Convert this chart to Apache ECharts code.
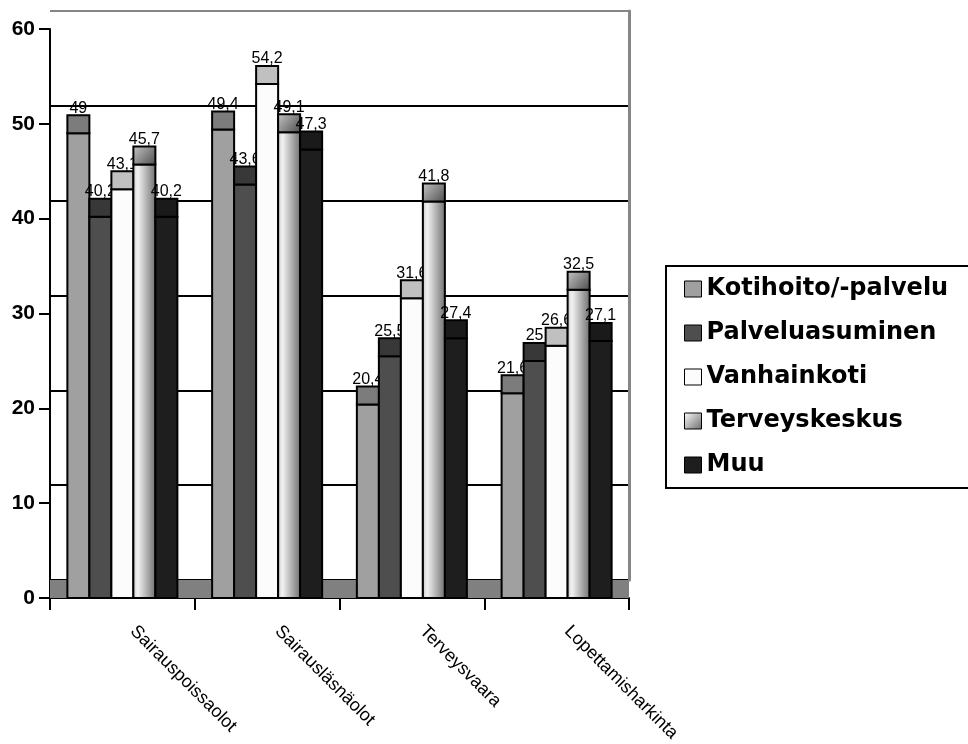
<!DOCTYPE html>
<html>
<head>
<meta charset="utf-8">
<script src="https://cdn.jsdelivr.net/npm/echarts@6/dist/echarts.min.js"></script>
<style>
  html, body { margin: 0; padding: 0; background: #ffffff; }
  #chart { width: 968px; height: 744px; }
</style>
</head>
<body>
<div id="chart"></div>
<script>
// Categories and series values (percent)
const categories = ['Sairauspoissaolot', 'Sairausläsnäolot', 'Terveysvaara', 'Lopettamisharkinta'];
const kotihoito = [49, 49.4, 20.4, 21.6];
const palveluasuminen = [40.2, 43.6, 25.5, 25];
const vanhainkoti = [43.1, 54.2, 31.6, 26.6];
const terveyskeskus = [45.7, 49.1, 41.8, 32.5];
const muu = [40.2, 47.3, 27.4, 27.1];
const seriesNames = ['Kotihoito/-palvelu', 'Palveluasuminen', 'Vanhainkoti', 'Terveyskeskus', 'Muu'];
const yTicks = { min: 0, max: 60, interval: 10 };

const seriesValues = [kotihoito, palveluasuminen, vanhainkoti, terveyskeskus, muu];

// Pseudo-3D look: every bar gets a top face of fixed pixel depth
const DEPTH = 18;
const CATEGORY_GAP = 0.24;

const LG = echarts.graphic.LinearGradient;
const faces = [
  { front: '#a0a0a0', top: '#7c7c7c' },
  { front: '#4e4e4e', top: '#383838' },
  { front: '#fcfcfc', top: '#c0c0c0' },
  {
    front: new LG(0, 0, 1, 0, [
      { offset: 0, color: '#c4c4c4' },
      { offset: 0.22, color: '#f2f2f2' },
      { offset: 1, color: '#6c6c6c' }
    ]),
    top: new LG(0, 0, 1, 1, [
      { offset: 0, color: '#c8c8c8' },
      { offset: 1, color: '#4a4a4a' }
    ])
  },
  { front: '#1e1e1e', top: '#1a1a1a' }
];
const legendFill = [
  '#a0a0a0', '#4e4e4e', '#fcfcfc',
  new LG(0, 0, 1, 1, [{ offset: 0, color: '#ffffff' }, { offset: 1, color: '#6a6a6a' }]),
  '#1e1e1e'
];

function fmt(v) {
  return String(v).replace('.', ',');
}

function barRenderer(si) {
  return function (params, api) {
    const cat = api.value(0);
    const val = api.value(1);
    const base = api.coord([cat, 0]);
    const top = api.coord([cat, val]);
    const band = api.size([1, 0])[0];
    const n = seriesNames.length;
    const bw = band * (1 - CATEGORY_GAP) / n;
    const x0 = base[0] - bw * n / 2 + si * bw;
    const f = faces[si];
    return {
      type: 'group',
      children: [
        {
          type: 'rect',
          shape: { x: x0, y: top[1], width: bw, height: base[1] - top[1] },
          style: { fill: f.front, stroke: '#000', lineWidth: 2 }
        },
        {
          type: 'rect',
          shape: { x: x0, y: top[1] - DEPTH, width: bw, height: DEPTH },
          style: { fill: f.top, stroke: '#000', lineWidth: 2 }
        },
        {
          type: 'text',
          style: {
            text: fmt(val),
            x: x0 + bw / 2,
            y: top[1] - DEPTH + 1,
            align: 'center',
            verticalAlign: 'bottom',
            fontFamily: 'Liberation Sans, Arial, sans-serif',
            fontSize: 16,
            fill: '#000'
          }
        }
      ]
    };
  };
}

const chart = echarts.init(document.getElementById('chart'), null, { renderer: 'canvas' });

const series = seriesNames.map((name, si) => ({
  name: name,
  type: 'custom',
  xAxisIndex: 0,
  yAxisIndex: 0,
  z: 3,
  renderItem: barRenderer(si),
  itemStyle: { color: legendFill[si], borderColor: '#000', borderWidth: 1 },
  encode: { x: 0, y: 1 },
  data: seriesValues[si].map((v, i) => [i, v])
}));

// Floor strip along the bottom of the plot
series.unshift({
  name: 'floor',
  type: 'custom',
  xAxisIndex: 0,
  yAxisIndex: 0,
  z: 1,
  silent: true,
  renderItem: function (params, api) {
    const cs = params.coordSys;
    return {
      type: 'rect',
      shape: { x: cs.x, y: cs.y + cs.height - DEPTH, width: cs.width, height: DEPTH },
      style: { fill: '#808080' }
    };
  },
  data: [[0, 0]]
});

const option = {
  backgroundColor: '#ffffff',
  animation: false,
  grid: [
    { left: 50, right: 339, top: 29, bottom: 146, outerBoundsMode: 'none', containLabel: false },
    { left: 50, right: 339, top: 11, bottom: 164, outerBoundsMode: 'none', containLabel: false }
  ],
  xAxis: [
    {
      type: 'category',
      gridIndex: 0,
      data: categories,
      boundaryGap: true,
      axisLine: { lineStyle: { color: '#000', width: 2 } },
      axisTick: { show: true, length: 12, interval: 0, lineStyle: { color: '#000', width: 2 } },
      axisLabel: {
        interval: 0,
        rotate: -45,
        margin: 20,
        padding: [0, 0, 0, 15],
        color: '#000',
        fontFamily: 'Liberation Sans, Arial, sans-serif',
        fontSize: 18
      },
      splitLine: { show: false }
    },
    {
      type: 'category',
      gridIndex: 1,
      data: categories,
      show: false
    }
  ],
  yAxis: [
    {
      type: 'value',
      gridIndex: 0,
      min: yTicks.min,
      max: yTicks.max,
      interval: yTicks.interval,
      axisLine: { show: true, lineStyle: { color: '#000', width: 2 } },
      axisTick: { show: true, length: 11, lineStyle: { color: '#000', width: 2 } },
      axisLabel: {
        margin: 15,
        color: '#000',
        fontFamily: 'Liberation Sans, Arial, sans-serif',
        fontWeight: 'bold',
        fontSize: 21
      },
      splitLine: { show: false }
    },
    {
      type: 'value',
      gridIndex: 1,
      position: 'right',
      min: yTicks.min,
      max: yTicks.max,
      interval: yTicks.interval,
      axisLine: { show: true, lineStyle: { color: '#868686', width: 3 } },
      axisTick: { show: false },
      axisLabel: { show: false },
      splitLine: {
        show: true,
        lineStyle: {
          width: 2,
          color: ['#000', '#000', '#000', '#000', '#000', '#000', '#868686']
        }
      }
    }
  ],
  legend: {
    orient: 'vertical',
    left: 666,
    top: 266,
    icon: 'rect',
    itemWidth: 17,
    itemHeight: 16,
    itemGap: 20,
    padding: [11, 40, 11, 18],
    borderColor: '#000',
    borderWidth: 2,
    selectedMode: false,
    textStyle: {
      color: '#000',
      fontFamily: 'DejaVu Sans',
      fontWeight: 'bold',
      fontSize: 24,
      lineHeight: 24,
      padding: [0, 0, 0, 0]
    },
    data: seriesNames.map((name, i) => ({
      name: name,
      itemStyle: { color: legendFill[i], borderColor: '#000', borderWidth: 1 }
    }))
  },
  series: series
};

chart.setOption(option);
</script>
</body>
</html>
